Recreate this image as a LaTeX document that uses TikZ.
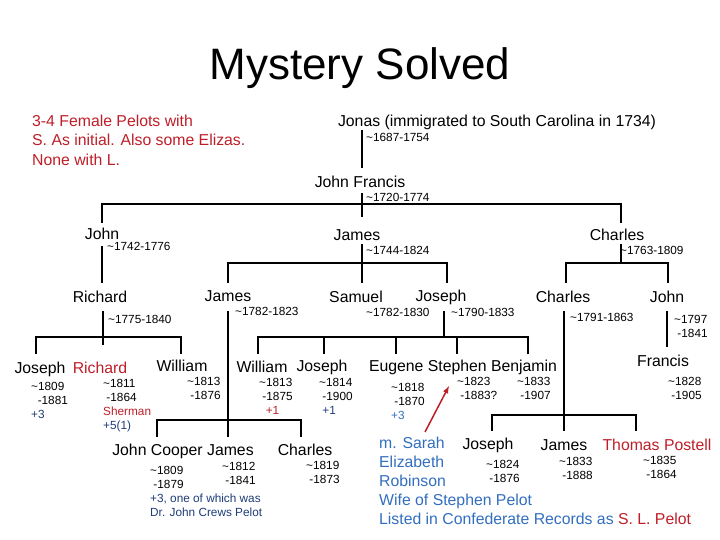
\documentclass[tikz,border=0pt]{standalone}
\usepackage{fontspec}
\setmainfont{Liberation Sans}
\definecolor{dred}{RGB}{190,30,40}
\definecolor{dblue}{RGB}{30,60,120}
\definecolor{mblue}{RGB}{50,110,190}
\begin{document}
\begin{tikzpicture}[x=1pt,y=-1pt,
 nm/.style={font=\fontsize{15.8}{17}\selectfont,inner sep=0pt},
 dt/.style={font=\fontsize{11.8}{14}\selectfont,inner sep=0pt,align=left},
 ln/.style={line width=2.6pt}]
\useasboundingbox (0,0) rectangle (720,540);
\node[inner sep=0pt,font=\fontsize{44}{48}\selectfont] (title) at (360,68) {Mystery Solved};
\node[dt,anchor=west,text=dred,font=\fontsize{15.8}{19.5}\selectfont] (note) at (32,140) {3-4 Female Pelots with\\S. As initial. Also some Elizas.\\None with L.};
% lines
\draw[ln] (362,130)--(362,168);
\draw[ln] (362,193)--(362,217);
\draw[ln] (102,204)--(621,204);
\draw[ln] (102,203)--(102,223) (621,203)--(621,223);
\draw[ln] (102,246)--(102,283);
\draw[ln] (362,244)--(362,283) (228,263)--(447,263) (228,262)--(228,283) (447,262)--(447,283);
\draw[ln] (621,244)--(621,264) (566,263)--(668,263) (566,262)--(566,283) (668,262)--(668,283);
\draw[ln] (103,311)--(103,345) (36,337)--(181,337) (36,336)--(36,354) (181,336)--(181,354);
\draw[ln] (228,311)--(228,437) (157,420)--(301,420) (157,419)--(157,437) (301,419)--(301,437);
\draw[ln] (258,337)--(528,337) (258,336)--(258,354) (324,336)--(324,354) (396,336)--(396,354) (457,336)--(457,354) (528,336)--(528,354) (444,311)--(444,337);
\draw[ln] (564,311)--(564,431) (492,415)--(636,415) (492,414)--(492,431) (636,414)--(636,431);
\draw[ln] (667,311)--(667,347);
\draw[dred,line width=1.5pt,-latex] (425,432)--(449,386);
% names
\node[nm] (jonas) at (497,122) {Jonas (immigrated to South Carolina in 1734)};
\node[dt,anchor=west] at (366,137) {\textasciitilde1687-1754};
\node[nm] (jf) at (360,182) {John Francis};
\node[dt,anchor=west] at (366,197) {\textasciitilde1720-1774};
\node[nm] at (102,234) {John};
\node[dt,anchor=west] at (107,246) {\textasciitilde1742-1776};
\node[nm] at (357,235) {James};
\node[dt,anchor=west] at (366,250) {\textasciitilde1744-1824};
\node[nm] at (617,235) {Charles};
\node[dt,anchor=west] at (620,250) {\textasciitilde1763-1809};
% gen 4
\node[nm] at (100,297) {Richard};
\node[dt,anchor=west] at (108,319) {\textasciitilde1775-1840};
\node[nm] at (228,296) {James};
\node[dt,anchor=west] at (235,311) {\textasciitilde1782-1823};
\node[nm] at (356,297) {Samuel};
\node[dt,anchor=west] at (366,312) {\textasciitilde1782-1830};
\node[nm] at (441,297) {Joseph};
\node[dt,anchor=west] at (451,312) {\textasciitilde1790-1833};
\node[nm] at (563,297) {Charles};
\node[dt,anchor=west] at (570,317) {\textasciitilde1791-1863};
\node[nm] at (667,297) {John};
\node[dt,anchor=west] at (674,326) {\textasciitilde1797\\\ -1841};
% gen 5
\node[nm] at (40,369) {Joseph};
\node[dt,anchor=north west] at (31,382) {\textasciitilde1809\\\ \ -1881\\\textcolor{dblue}{+3}};
\node[nm,text=dred] at (100,368) {Richard};
\node[dt,anchor=north west] at (103,379) {\textasciitilde1811\\\ -1864\\\textcolor{dred}{Sherman}\\\textcolor{dblue}{+5(1)}};
\node[nm] at (182,366) {William};
\node[dt,anchor=north west] at (187,377) {\textasciitilde1813\\\ -1876};
\node[nm] at (262,367) {William};
\node[nm] at (322,367) {Joseph};
\node[dt,anchor=north west] at (259,378) {\textasciitilde1813\\\ -1875\\\textcolor{dred}{\ \ +1}};
\node[dt,anchor=north west] at (319,378) {\textasciitilde1814\\\ -1900\\\textcolor{dblue}{\ +1}};
\node[nm] at (463,367) {Eugene Stephen Benjamin};
\node[dt,anchor=north west] at (391,383) {\textasciitilde1818\\\ -1870\\\textcolor{mblue}{+3}};
\node[dt,anchor=north west] at (457,377) {\textasciitilde1823\\\ -1883?};
\node[dt,anchor=north west] at (517,377) {\textasciitilde1833\\\ -1907};
\node[nm] at (663,361) {Francis};
\node[dt,anchor=north west] at (668,377) {\textasciitilde1828\\\ -1905};
% gen 6
\node[nm] at (183,451) {John Cooper James};
\node[dt,anchor=north west] at (150,466) {\textasciitilde1809\\\ -1879};
\node[dt,anchor=north west] at (222,462) {\textasciitilde1812\\\ -1841};
\node[dt,anchor=north west,text=dblue] at (150,494) {+3, one of which was\\Dr. John Crews Pelot};
\node[nm] at (305,450) {Charles};
\node[dt,anchor=north west] at (306,461) {\textasciitilde1819\\\ -1873};
\node[nm] at (488,445) {Joseph};
\node[dt,anchor=north west] at (486,460) {\textasciitilde1824\\\ -1876};
\node[nm] at (564,445) {James};
\node[dt,anchor=north west] at (559,457) {\textasciitilde1833\\\ -1888};
\node[nm,text=dred] at (657,445) {Thomas Postell};
\node[dt,anchor=north west] at (643,456) {\textasciitilde1835\\\ -1864};
\node[dt,anchor=north west,text=mblue,font=\fontsize{15.8}{19}\selectfont] (wife) at (379,437) {m. Sarah\\Elizabeth\\Robinson\\Wife of Stephen Pelot\\Listed in Confederate Records as \textcolor{dred}{S. L. Pelot}};
\end{tikzpicture}
\end{document}
